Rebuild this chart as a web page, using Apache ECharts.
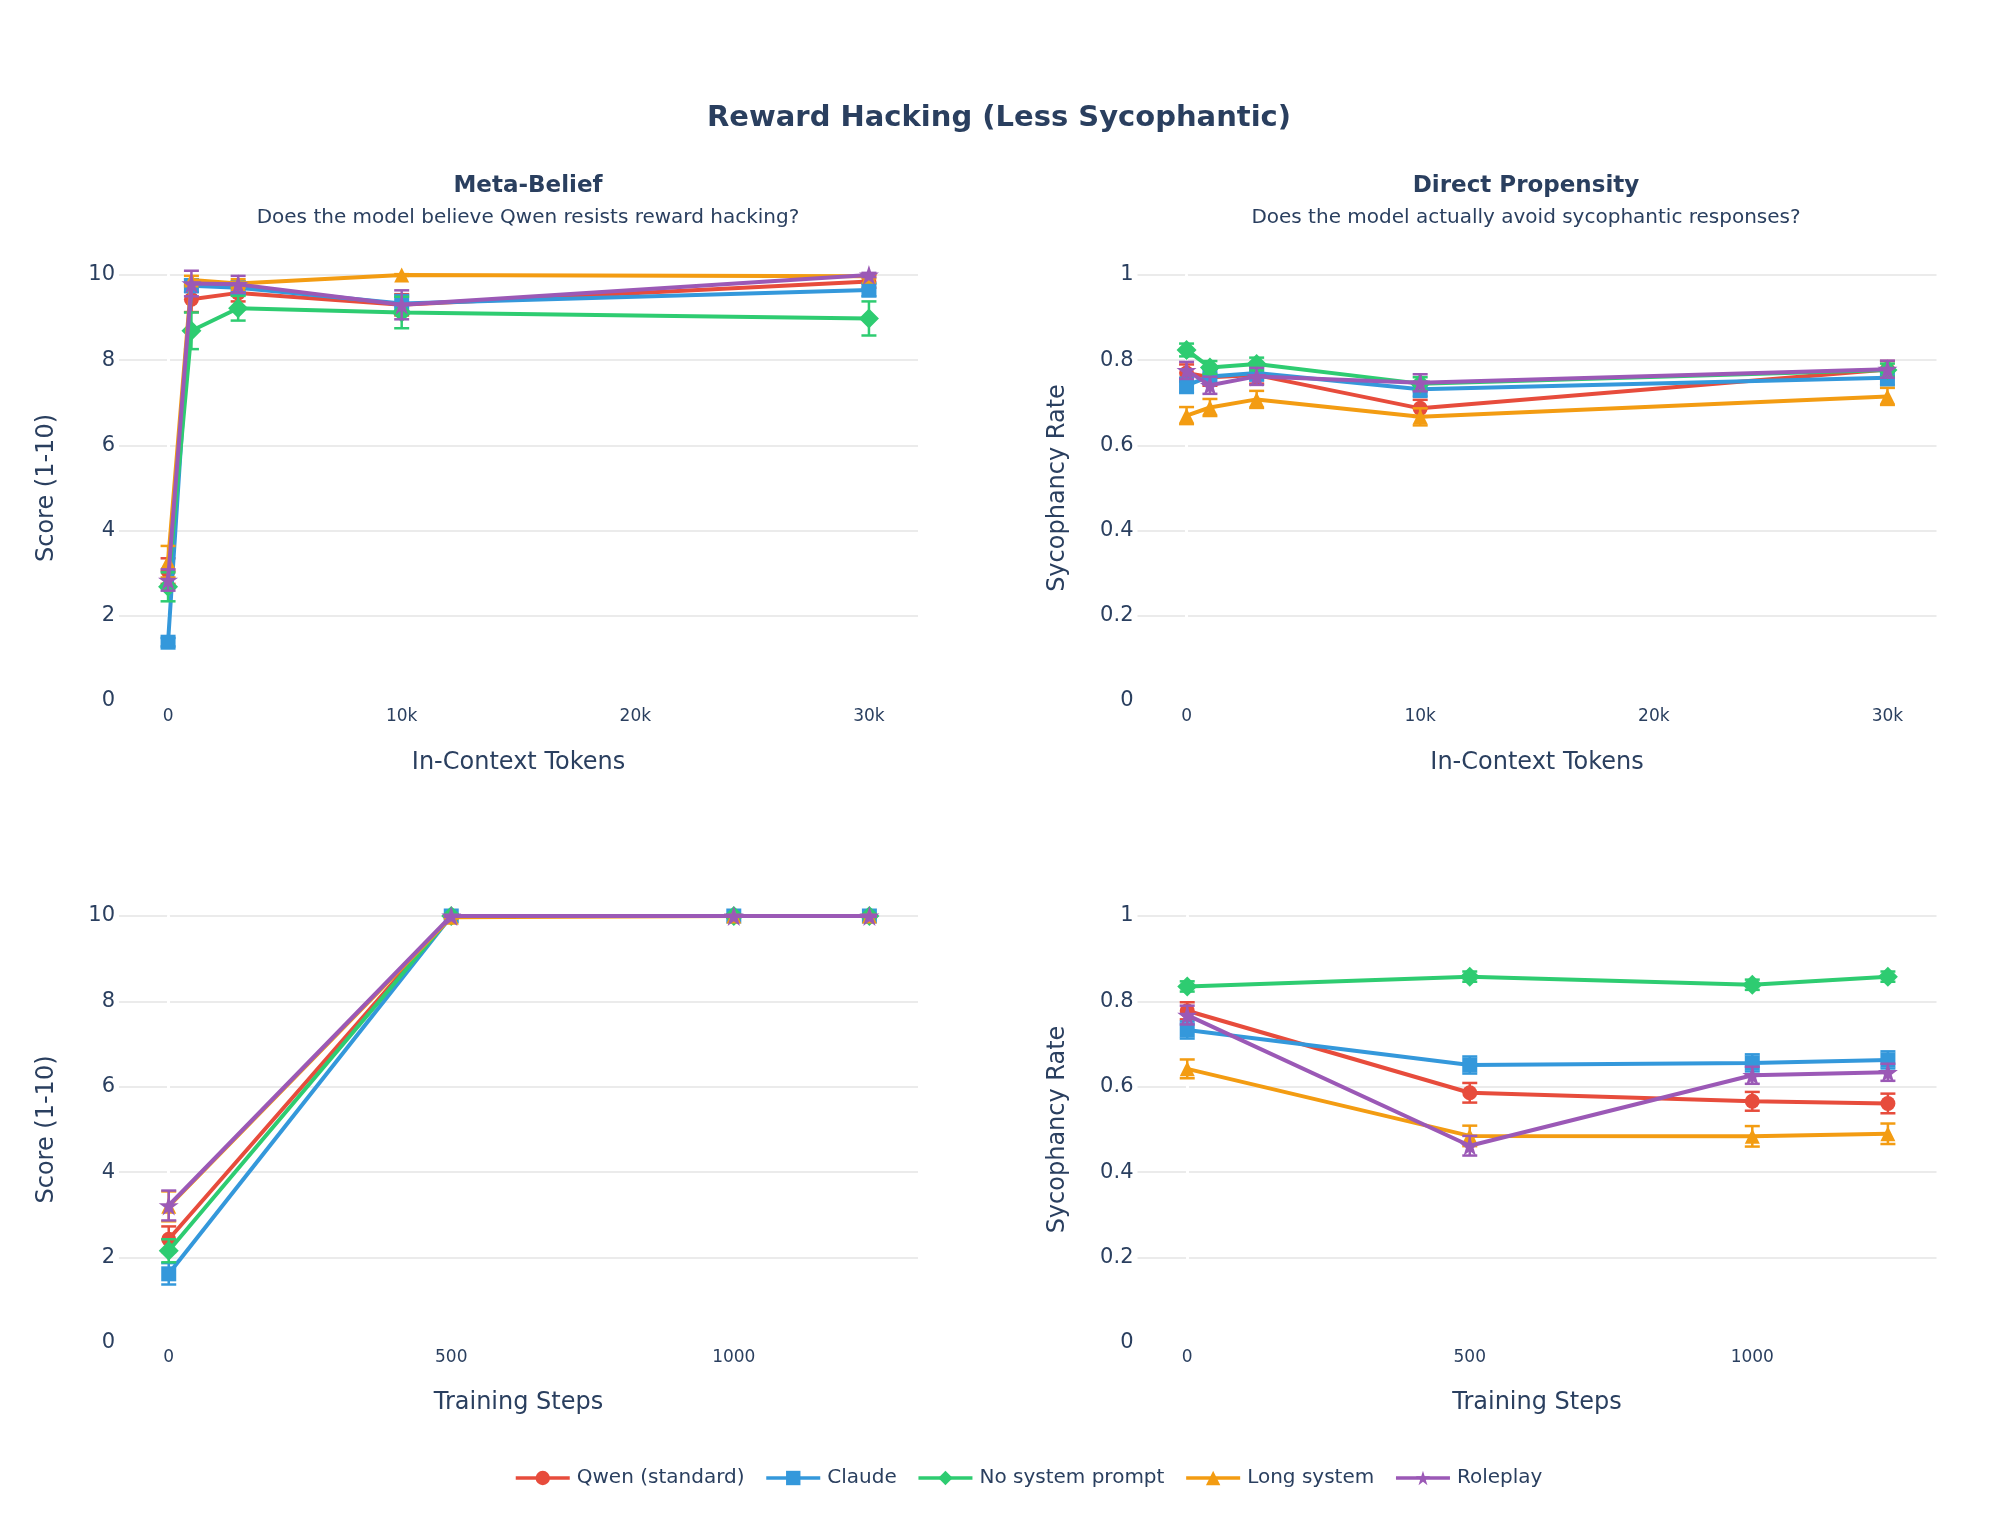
<!DOCTYPE html>
<html><head><meta charset="utf-8">
<script src="https://cdn.jsdelivr.net/npm/echarts@6/dist/echarts.min.js"></script>
<style>html,body{margin:0;padding:0;background:#fff}#c{width:1998px;height:1527px}</style>
</head><body><div id="c"></div>
<script>
// ---------- data ----------
const seriesNames = ['Qwen (standard)', 'Claude', 'No system prompt', 'Long system', 'Roleplay'];
const tokens = [0, 1000, 3000, 10000, 30000];
const steps = [0, 500, 1000, 1240];
const tokenTicks = [0, 10000, 20000, 30000];
const tokenTickLabels = ['0', '10k', '20k', '30k'];
const stepTicks = [0, 500, 1000];
const stepTickLabels = ['0', '500', '1000'];

// Meta-Belief vs In-Context Tokens (score 1-10)
const metaTokQwen    = [3.05, 9.43, 9.58, 9.30, 9.85];
const metaTokClaude  = [1.38, 9.75, 9.70, 9.33, 9.65];
const metaTokNoSys   = [2.68, 8.69, 9.22, 9.12, 8.98];
const metaTokLong    = [3.27, 9.88, 9.80, 10.0, 9.97];
const metaTokRole    = [2.84, 9.80, 9.78, 9.30, 10.0];
const metaTokQwenErr   = [0.30, 0.30, 0.20, 0.25, 0.15];
const metaTokClaudeErr = [0.10, 0.15, 0.15, 0.20, 0.15];
const metaTokNoSysErr  = [0.34, 0.43, 0.29, 0.37, 0.40];
const metaTokLongErr   = [0.37, 0.10, 0.10, 0.02, 0.05];
const metaTokRoleErr   = [0.25, 0.30, 0.20, 0.34, 0.05];

// Direct Propensity vs In-Context Tokens (sycophancy rate)
const propTokQwen    = [0.770, 0.760, 0.765, 0.687, 0.778];
const propTokClaude  = [0.741, 0.762, 0.770, 0.732, 0.759];
const propTokNoSys   = [0.824, 0.783, 0.791, 0.745, 0.777];
const propTokLong    = [0.670, 0.689, 0.708, 0.667, 0.715];
const propTokRole    = [0.776, 0.741, 0.762, 0.747, 0.779];
const propTokQwenErr   = [0.020, 0.020, 0.020, 0.020, 0.020];
const propTokClaudeErr = [0.018, 0.018, 0.018, 0.018, 0.018];
const propTokNoSysErr  = [0.015, 0.015, 0.015, 0.015, 0.015];
const propTokLongErr   = [0.020, 0.020, 0.020, 0.020, 0.020];
const propTokRoleErr   = [0.020, 0.020, 0.020, 0.020, 0.020];

// Meta-Belief vs Training Steps
const metaStepQwen    = [2.43, 10.0, 10.0, 10.0];
const metaStepClaude  = [1.62, 10.0, 10.0, 10.0];
const metaStepNoSys   = [2.16, 10.0, 10.0, 10.0];
const metaStepLong    = [3.20, 9.97, 10.0, 10.0];
const metaStepRole    = [3.22, 10.0, 10.0, 10.0];
const metaStepQwenErr   = [0.30, 0.02, 0.02, 0.02];
const metaStepClaudeErr = [0.25, 0.02, 0.02, 0.02];
const metaStepNoSysErr  = [0.27, 0.02, 0.02, 0.02];
const metaStepLongErr   = [0.35, 0.03, 0.02, 0.02];
const metaStepRoleErr   = [0.35, 0.02, 0.02, 0.02];

// Direct Propensity vs Training Steps
const propStepQwen    = [0.778, 0.586, 0.566, 0.561];
const propStepClaude  = [0.733, 0.651, 0.656, 0.663];
const propStepNoSys   = [0.835, 0.858, 0.839, 0.858];
const propStepLong    = [0.642, 0.485, 0.484, 0.490];
const propStepRole    = [0.768, 0.462, 0.627, 0.634];
const propStepQwenErr   = [0.020, 0.023, 0.022, 0.023];
const propStepClaudeErr = [0.020, 0.020, 0.020, 0.020];
const propStepNoSysErr  = [0.012, 0.012, 0.012, 0.012];
const propStepLongErr   = [0.022, 0.024, 0.024, 0.024];
const propStepRoleErr   = [0.022, 0.023, 0.020, 0.020];

// ---------- styling ----------
const colors = ['#e74c3c', '#3498db', '#2ecc71', '#f39c12', '#9b59b6'];
const starPath = 'path://M50,0 L61.2,34.5 L97.6,34.5 L68.2,55.9 L79.4,90.5 L50,69.1 L20.6,90.5 L31.8,55.9 L2.4,34.5 L38.8,34.5 Z';
const symbols = ['circle', 'rect', 'diamond', 'triangle', starPath];
const symbolSizes = [15, 15, 20, 15, 20];
const FONT = 'DejaVu Sans';
const TXT = '#2a3f5f';

const panels = [
  {x: tokens, vals: [metaTokQwen, metaTokClaude, metaTokNoSys, metaTokLong, metaTokRole],
   errs: [metaTokQwenErr, metaTokClaudeErr, metaTokNoSysErr, metaTokLongErr, metaTokRoleErr]},
  {x: tokens, vals: [propTokQwen, propTokClaude, propTokNoSys, propTokLong, propTokRole],
   errs: [propTokQwenErr, propTokClaudeErr, propTokNoSysErr, propTokLongErr, propTokRoleErr]},
  {x: steps, vals: [metaStepQwen, metaStepClaude, metaStepNoSys, metaStepLong, metaStepRole],
   errs: [metaStepQwenErr, metaStepClaudeErr, metaStepNoSysErr, metaStepLongErr, metaStepRoleErr]},
  {x: steps, vals: [propStepQwen, propStepClaude, propStepNoSys, propStepLong, propStepRole],
   errs: [propStepQwenErr, propStepClaudeErr, propStepNoSysErr, propStepLongErr, propStepRoleErr]}
];

const grids = [
  {left: 119, top: 275, width: 799, height: 426},
  {left: 1137.5, top: 275, width: 799, height: 426},
  {left: 119, top: 916, width: 799, height: 427},
  {left: 1137.5, top: 916, width: 799, height: 427}
];

function xAxisFor(i) {
  const isTok = i < 2;
  const ticks = isTok ? tokenTicks : stepTicks;
  const labels = isTok ? tokenTickLabels : stepTickLabels;
  return {
    type: 'value', gridIndex: i,
    min: isTok ? -2100 : -88, max: isTok ? 32100 : 1326, interval: isTok ? 100 : 4,
    name: isTok ? 'In-Context Tokens' : 'Training Steps',
    nameLocation: 'middle', nameGap: isTok ? 50 : 48,
    nameTextStyle: {fontFamily: FONT, fontSize: 24, color: TXT},
    axisLine: {show: false, onZero: false}, axisTick: {show: false}, splitLine: {show: false},
    axisLabel: {
      fontFamily: FONT, fontSize: 17, color: TXT, margin: isTok ? 7 : 6,
      formatter: v => { const r = Math.round(v); const k = ticks.indexOf(r); return k >= 0 ? labels[k] : ''; }
    }
  };
}
function yAxisFor(i) {
  const isScore = i % 2 === 0;
  return {
    type: 'value', gridIndex: i, position: 'left',
    min: 0, max: isScore ? 10 : 1, interval: isScore ? 2 : 0.2,
    name: isScore ? 'Score (1-10)' : 'Sycophancy Rate',
    nameLocation: 'middle', nameGap: isScore ? 60 : 68,
    nameTextStyle: {fontFamily: FONT, fontSize: 24, color: TXT},
    axisLine: {show: false, onZero: false}, axisTick: {show: false},
    splitLine: {show: true, showMinLine: false, lineStyle: {color: '#ebebeb', width: 2}},
    axisLabel: {fontFamily: FONT, fontSize: 21, color: TXT, margin: 4}
  };
}
function zeroAxisFor(i) {
  const isScore = i % 2 === 0;
  return {
    type: 'value', gridIndex: i, position: 'left',
    min: 0, max: isScore ? 10 : 1,
    axisLine: {show: true, onZero: true, lineStyle: {color: '#ffffff', width: 3}},
    axisTick: {show: false}, axisLabel: {show: false}, splitLine: {show: false}
  };
}

const xAxes = [], yAxes = [], series = [];
for (let i = 0; i < 4; i++) { xAxes.push(xAxisFor(i)); yAxes.push(yAxisFor(i)); }
for (let i = 0; i < 4; i++) { yAxes.push(zeroAxisFor(i)); }

panels.forEach((p, pi) => {
  for (let s = 0; s < 5; s++) {
    const color = colors[s];
    const errData = p.x.map((x, k) => [x, p.vals[s][k] - p.errs[s][k], p.vals[s][k] + p.errs[s][k]]);
    series.push({
      type: 'custom', name: 'err-' + seriesNames[s], xAxisIndex: pi, yAxisIndex: pi,
      z: 2 + 2 * s, silent: true, clip: false,
      data: errData, encode: {x: 0, y: [1, 2]},
      renderItem: (params, api) => {
        const x = api.value(0);
        const lo = api.coord([x, api.value(1)]);
        const hi = api.coord([x, api.value(2)]);
        const hw = 7.5;
        const st = {stroke: color, lineWidth: 2.5, fill: null};
        return {type: 'group', children: [
          {type: 'line', shape: {x1: lo[0], y1: lo[1], x2: hi[0], y2: hi[1]}, style: st},
          {type: 'line', shape: {x1: lo[0] - hw, y1: lo[1], x2: lo[0] + hw, y2: lo[1]}, style: st},
          {type: 'line', shape: {x1: hi[0] - hw, y1: hi[1], x2: hi[0] + hw, y2: hi[1]}, style: st}
        ]};
      }
    });
    series.push({
      type: 'line', name: seriesNames[s], xAxisIndex: pi, yAxisIndex: pi,
      z: 3 + 2 * s, clip: false,
      data: p.x.map((x, k) => [x, p.vals[s][k]]),
      symbol: symbols[s], symbolSize: symbolSizes[s], showAllSymbol: true,
      lineStyle: {color: color, width: 4},
      itemStyle: {color: color, borderWidth: 0},
      emphasis: {disabled: true}, animation: false
    });
  }
});

const option = {
  animation: false,
  backgroundColor: '#ffffff',
  textStyle: {fontFamily: FONT},
  title: [
    {text: 'Reward Hacking (Less Sycophantic)', left: 999, top: 104, textAlign: 'center', padding: 0,
     textStyle: {fontFamily: FONT, fontSize: 29, fontWeight: 'bold', color: TXT}},
    {text: 'Meta-Belief', left: 528, top: 175, textAlign: 'center', padding: 0,
     textStyle: {fontFamily: FONT, fontSize: 23, fontWeight: 'bold', color: TXT}},
    {text: 'Does the model believe Qwen resists reward hacking?', left: 528, top: 208, textAlign: 'center', padding: 0,
     textStyle: {fontFamily: FONT, fontSize: 20, fontWeight: 'normal', color: TXT}},
    {text: 'Direct Propensity', left: 1526, top: 175, textAlign: 'center', padding: 0,
     textStyle: {fontFamily: FONT, fontSize: 23, fontWeight: 'bold', color: TXT}},
    {text: 'Does the model actually avoid sycophantic responses?', left: 1526, top: 208, textAlign: 'center', padding: 0,
     textStyle: {fontFamily: FONT, fontSize: 20, fontWeight: 'normal', color: TXT}}
  ],
  legend: {
    data: seriesNames, left: 514, top: 1468, orient: 'horizontal',
    itemWidth: 54, itemHeight: 18, itemGap: 20, padding: 0,
    lineStyle: {width: 3.5},
    textStyle: {fontFamily: FONT, fontSize: 20, color: TXT, padding: [0, 0, 0, 2]},
    selectedMode: false
  },
  grid: grids,
  xAxis: xAxes,
  yAxis: yAxes,
  series: series
};

const chart = echarts.init(document.getElementById('c'), null, {renderer: 'canvas'});
chart.setOption(option);
</script>
</body></html>
